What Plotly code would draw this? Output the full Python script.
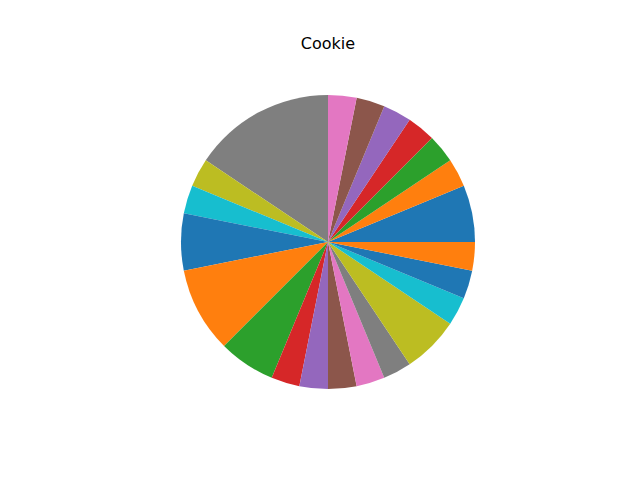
import plotly.graph_objects as go

labels = [f"slice {i+1}" for i in range(22)]
values = [2, 1, 1, 1, 1, 1, 1, 5, 1, 1, 2, 3, 2, 1, 1, 1, 1, 1, 2, 1, 1, 1]
tab10 = ["#1f77b4", "#ff7f0e", "#2ca02c", "#d62728", "#9467bd",
         "#8c564b", "#e377c2", "#7f7f7f", "#bcbd22", "#17becf"]
colors = [tab10[i % 10] for i in range(len(values))]

W, H = 640, 480
cx, cy, r = 328, 242, 147

# first slice should begin at 3 o'clock going counterclockwise
first_deg = 360 * values[0] / sum(values)

fig = go.Figure(go.Pie(
    labels=labels, values=values, sort=False,
    direction="counterclockwise", rotation=90 - first_deg,
    marker=dict(colors=colors, line=dict(width=0)),
    textinfo="none", showlegend=False,
    domain=dict(x=[(cx - r) / W, (cx + r) / W],
                y=[(H - cy - r) / H, (H - cy + r) / H]),
))
fig.update_layout(
    width=W, height=H,
    margin=dict(l=0, r=0, t=0, b=0),
    paper_bgcolor="white", plot_bgcolor="white",
    title=dict(text="Cookie", x=cx / W, xanchor="center",
               y=1 - 43 / H, yanchor="middle", yref="container",
               font=dict(family="DejaVu Sans", size=16, color="black")),
)
fig.write_html("out.html")
